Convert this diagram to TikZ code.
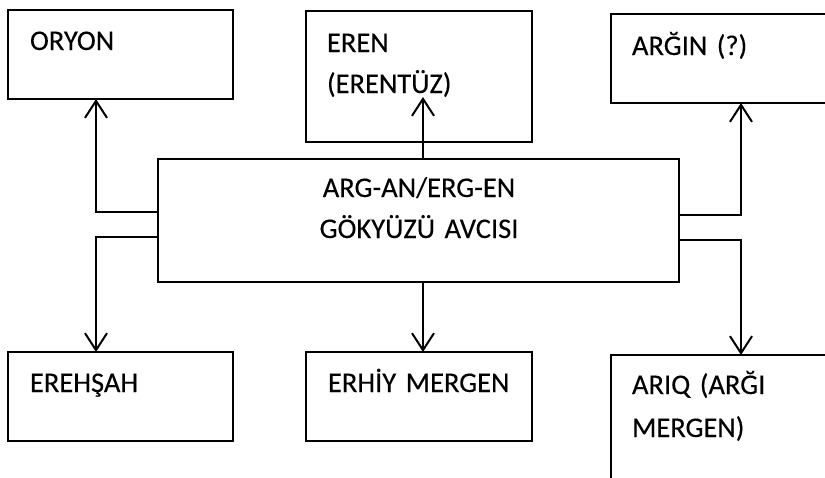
\documentclass[tikz,border=0pt]{standalone}
\usepackage{fontspec}
\setmainfont{Carlito}[FakeBold=0.2,WordSpace=0.7]
\usetikzlibrary{arrows.meta,calc}
\begin{document}
\begin{tikzpicture}[x=1pt,y=-1pt,
  box/.style={draw=black,line width=1.6pt,rectangle,inner sep=0pt,outer sep=0pt,anchor=north west},
  lbl/.style={inner sep=0pt,outer sep=0pt,anchor=base west,text width=215pt,align=left,font=\fontsize{28.5}{41}\selectfont},
  arr/.style={line width=2pt,-{Straight Barb[length=17pt,width=22pt,line width=2pt]}}]
\useasboundingbox (0,0) rectangle (825,477);
\clip (0,0) rectangle (825,477);
% boxes
\node[box,minimum width=225pt,minimum height=89pt] (oryon) at (8,10) {};
\node[box,minimum width=226pt,minimum height=131pt] (eren) at (306,11) {};
\node[box,minimum width=225pt,minimum height=89pt] (argin) at (611,14) {};
\node[box,minimum width=521pt,minimum height=123pt] (center) at (158,159) {};
\node[box,minimum width=225pt,minimum height=89pt] (erehsah) at (8,352) {};
\node[box,minimum width=226pt,minimum height=89pt] (erhiy) at (306,352) {};
\node[box,minimum width=225pt,minimum height=170pt] (ariq) at (611,355) {};
% texts
\node[lbl] (toryon) at (30,50) {ORYON};
\node[lbl] (teren) at (327,52) {EREN\\(ERENTÜZ)};
\node[lbl] (targin) at (632,55) {ARĞIN (?)};
\node[lbl,anchor=base,text width=400pt,align=center] (tcenter) at (419,197) {ARG-AN/ERG-EN\\GÖKYÜZÜ AVCISI};
\node[lbl] (terehsah) at (30,392) {EREHŞAH};
\node[lbl] (terhiy) at (328,392) {ERHİY MERGEN};
\node[lbl,font=\fontsize{28.5}{43}\selectfont] (tariq) at (632,394) {ARIQ (ARĞI\\MERGEN)};
% connectors
\draw[arr] ($(center.north west)+(0,53)$) -| ($(oryon.south west)+(88,0)$);
\draw[arr] ($(center.north west)+(0,78)$) -| ($(erehsah.north west)+(88,0)$);
\draw[arr] ($(center.north west)+(265,0)$) -- ($(eren.south west)+(117,-45)$);
\draw[arr] ($(center.south west)+(265,0)$) -- ($(erhiy.north west)+(117,0)$);
\draw[arr] ($(center.north east)+(0,56)$) -| ($(argin.south west)+(130,0)$);
\draw[arr] ($(center.north east)+(0,81)$) -| ($(ariq.north west)+(130,0)$);
\end{tikzpicture}
\end{document}
